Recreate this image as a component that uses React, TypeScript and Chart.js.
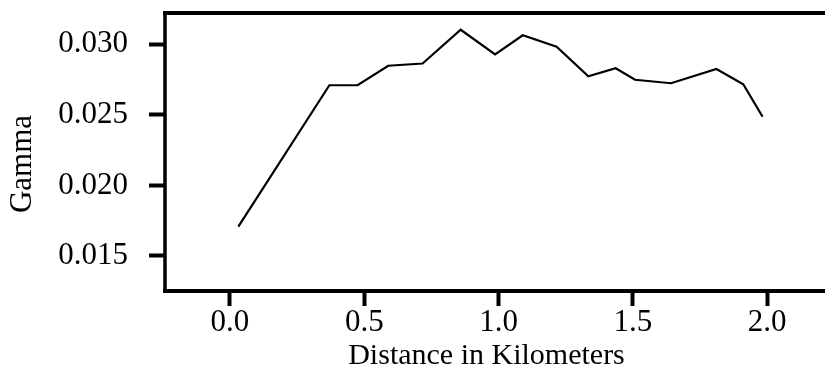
import React, { useEffect, useRef } from "react";
import { Chart, registerables } from "chart.js";

Chart.register(...registerables);

const distanceKm = [0.031, 0.37, 0.475, 0.589, 0.717, 0.859, 0.987, 1.09, 1.216, 1.334, 1.436, 1.508, 1.642, 1.811, 1.911, 1.983];
const gamma = [0.01708, 0.0271, 0.0271, 0.02848, 0.02864, 0.03103, 0.02929, 0.03064, 0.02983, 0.02773, 0.0283, 0.02749, 0.02724, 0.02825, 0.02717, 0.02487];
const xTicks = [0, 0.5, 1.0, 1.5, 2.0];
const yTicks = [0.015, 0.02, 0.025, 0.03];
const xTitle = "Distance in Kilometers";
const yTitle = "Gamma";

const FONT = "'Liberation Serif', 'Times New Roman', serif";

const framePlugin = {
  id: "frame",
  afterDraw(chart: any) {
    const { ctx, chartArea, width } = chart;
    const { left, top, bottom } = chartArea;
    ctx.save();
    ctx.strokeStyle = "#000";
    ctx.lineCap = "butt";
    ctx.lineWidth = 4;
    ctx.beginPath();
    ctx.moveTo(left - 2, top);
    ctx.lineTo(width, top);
    ctx.moveTo(left - 2, bottom);
    ctx.lineTo(width, bottom);
    ctx.stroke();
    ctx.lineWidth = 3.5;
    ctx.beginPath();
    ctx.moveTo(left, top - 2);
    ctx.lineTo(left, bottom + 2);
    ctx.stroke();
    // y-axis title
    ctx.fillStyle = "#000";
    ctx.font = `31px ${FONT}`;
    ctx.textAlign = "center";
    ctx.textBaseline = "middle";
    ctx.translate(23, (top + bottom) / 2 + 12);
    ctx.rotate(-Math.PI / 2);
    ctx.fillText(yTitle, 0, 0);
    ctx.restore();
  },
};

export default function App() {
  const ref = useRef<HTMLCanvasElement>(null);
  useEffect(() => {
    if (!ref.current) return;
    const chart = new Chart(ref.current, {
      type: "line",
      data: {
        datasets: [
          {
            data: distanceKm.map((x, i) => ({ x, y: gamma[i] })),
            borderColor: "#000",
            borderWidth: 2.2,
            pointRadius: 0,
            fill: false,
            tension: 0,
          },
        ],
      },
      options: {
        animation: false,
        responsive: false,
        devicePixelRatio: 1,
        layout: { padding: { top: 13, right: 17, left: 0, bottom: 0 } },
        plugins: { legend: { display: false }, tooltip: { enabled: false } },
        scales: {
          x: {
            type: "linear",
            min: -0.242,
            max: 2.152,
            afterBuildTicks: (s: any) => {
              s.ticks = xTicks.map((v) => ({ value: v }));
            },
            afterFit: (s: any) => {
              s.height = 80;
              s.paddingLeft = 0;
              s.paddingRight = 0;
            },
            ticks: {
              callback: (v: any) => Number(v).toFixed(1),
              font: { family: FONT, size: 31, lineHeight: 1 },
              color: "#000",
              padding: 1,
              maxRotation: 0,
              autoSkip: false,
            },
            grid: {
              drawOnChartArea: false,
              drawTicks: true,
              tickLength: 15,
              tickWidth: 4,
              tickColor: "#000",
            },
            border: { display: false },
            title: {
              display: true,
              text: xTitle,
              color: "#000",
              font: { family: FONT, size: 30, lineHeight: 1 },
              padding: { top: 0, bottom: 0 },
            },
          },
          y: {
            type: "linear",
            min: 0.01252,
            max: 0.032218,
            afterBuildTicks: (s: any) => {
              s.ticks = yTicks.map((v) => ({ value: v }));
            },
            afterFit: (s: any) => {
              s.width = 165;
              s.paddingTop = 0;
              s.paddingBottom = 0;
            },
            ticks: {
              callback: (v: any) => Number(v).toFixed(3),
              font: { family: FONT, size: 31, lineHeight: 1 },
              color: "#000",
              padding: 21,
              autoSkip: false,
            },
            grid: {
              drawOnChartArea: false,
              drawTicks: true,
              tickLength: 16,
              tickWidth: 4,
              tickColor: "#000",
            },
            border: { display: false },
            title: { display: false },
          },
        },
      },
      plugins: [framePlugin],
    } as any);
    return () => chart.destroy();
  }, []);
  return (
    <div style={{ position: "fixed", left: 0, top: 0, width: 825, height: 371, background: "#fff" }}>
      <canvas ref={ref} width={825} height={371} style={{ width: 825, height: 371 }} />
    </div>
  );
}
